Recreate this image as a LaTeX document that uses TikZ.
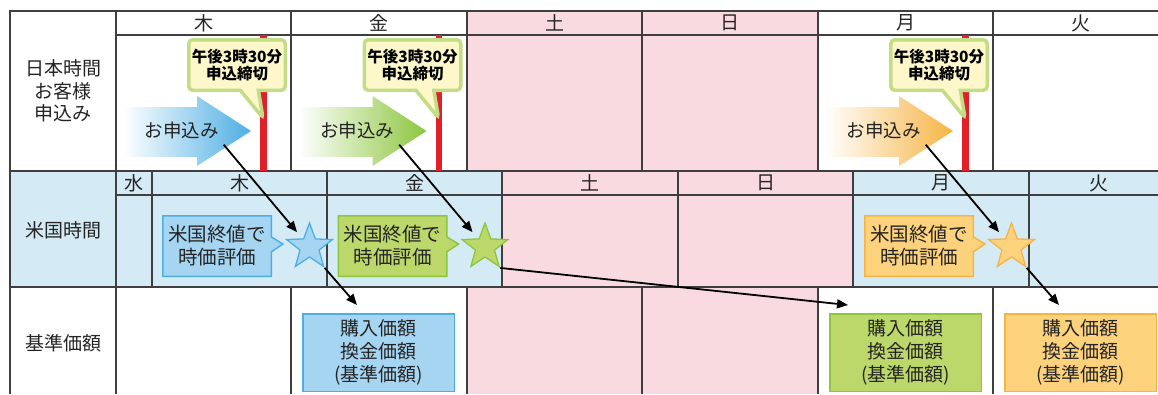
\documentclass[tikz,border=0pt]{standalone}
\usepackage{fontspec}
\setmainfont{Noto Sans CJK JP}
\usetikzlibrary{arrows.meta,shapes.geometric,shapes.callouts}
\definecolor{gridline}{HTML}{3F3F3F}
\definecolor{txt}{HTML}{242424}
\definecolor{pinkbg}{HTML}{F9DAE0}
\definecolor{usbg}{HTML}{D4EAF4}
\definecolor{redline}{HTML}{E2202A}
\definecolor{noteline}{HTML}{C3DC86}
\definecolor{notefill}{HTML}{FDF7CA}
\definecolor{blueA}{HTML}{4DAEE4}
\definecolor{blueB}{HTML}{A6D5F2}
\definecolor{greenA}{HTML}{8CC63E}
\definecolor{greenB}{HTML}{BDD86A}
\definecolor{orangeA}{HTML}{F6B445}
\definecolor{orangeB}{HTML}{FDD27C}
\begin{document}
\begin{tikzpicture}[x=1pt,y=-1pt,
	grid/.style={draw=gridline,line width=1.3pt},
	day/.style={font=\fontsize{19}{19}\selectfont,text=txt},
	rowlabel/.style={font=\fontsize{19}{22.5}\selectfont,align=center,text=txt},
	applabel/.style={font=\fontsize{18.5}{18.5}\selectfont,text=txt,inner sep=0pt},
	deadline/.style={rectangle callout,draw=noteline,fill=notefill,line width=3.5pt,
		rounded corners=4pt,minimum width=96.5,minimum height=50.5,callout pointer width=18pt,
		font=\bfseries\fontsize{15.5}{17}\selectfont,align=center,inner sep=0pt,text=black},
	evalbox/.style={rectangle callout,line width=1.5pt,minimum width=108.5,minimum height=60.5,
		callout pointer width=15pt,font=\fontsize{19.5}{23}\selectfont,align=center,text=txt},
	basebox/.style={rectangle,line width=1.5pt,minimum width=151.5,minimum height=77.5,
		font=\fontsize{19}{23}\selectfont,align=center,text=txt},
	mark/.style={},
	link/.style={->,line width=1.8pt,black},
	>={Triangle[length=11pt,width=9pt]}]
	\useasboundingbox (0,0) rectangle (1158,394);
	% weekend and US row
	\fill[pinkbg] (467,11) rectangle (818,171);
	\fill[usbg] (10,171) rectangle (1158,287);
	\fill[pinkbg] (502,171) rectangle (853,287);
	\fill[pinkbg] (467,287) rectangle (818,394);
	% grid
	\draw[grid] (10,394) -- (10,11) -- (1158,11);
	\foreach \y in {171,287}
		\draw[grid] (10,\y) -- (1158,\y);
	\draw[grid] (116,35) -- (1158,35);
	\draw[grid] (116,195) -- (1158,195);
	\draw[grid] (116,11) -- (116,394);
	\foreach \x in {291,467,642,818,993}
		{
			\draw[grid] (\x,11) -- (\x,171);
			\draw[grid] (\x,287) -- (\x,394);
		}
	\foreach \x in {152,327,502,678,853,1029}
		\draw[grid] (\x,171) -- (\x,287);
	% days
	\foreach \x/\d [count=\i] in {203.5/木,379/金,554.5/土,730/日,905.5/月,1081/火}
		\node[day] (jp\i) at (\x,23) {\d};
	\foreach \x/\d [count=\i] in {134/水,239.5/木,414.5/金,590/土,765.5/日,941/月,1098.5/火}
		\node[day] (us\i) at (\x,183) {\d};
	% row labels
	\node[rowlabel] (jptime) at (63,91) {日本時間\\お客様\\申込み};
	\node[rowlabel] (ustime) at (63,230) {米国時間};
	\node[rowlabel] (nav) at (63,343) {基準価額};
	% orders
	\foreach \dx/\col/\lite/\bx/\ex [count=\i] in {0/blueA/blueB/378.5/357,175.5/greenA/greenB/905.5/848,702/orangeA/orangeB/1080.5/1059}
		{
			\shade[left color=white,middle color=\col,right color=\col]
				(123+\dx,107) -- (197+\dx,107) -- (197+\dx,96) -- (251+\dx,131)
				-- (197+\dx,166) -- (197+\dx,157) -- (123+\dx,157) -- cycle;
			\node[applabel] (app\i) at (181.5+\dx,130) {お申込み};
			\draw[redline,line width=6.5pt] (263.5+\dx,35) -- (263.5+\dx,171);
			\coordinate (tip\i) at (263+\dx,118);
			\node[deadline,callout absolute pointer={(tip\i)}] (cut\i) at (237+\dx,65) {午後3時30分\\申込締切};
			\node[star,star points=5,star point ratio=2.4,minimum size=48pt,inner sep=0pt,
				draw=\col,fill=\lite,line width=1.3pt] (star\i) at (309.5+\dx,247) {};
			\node[evalbox,draw=\col,fill=\lite,
				callout absolute pointer={([shift={(-2,5)}]star\i.outer point 2)}] (eval\i) at (217+\dx,246) {米国終値で\\時価評価};
			\node[basebox,draw=\col,fill=\lite] (base\i) at (\bx,352.5) {購入価額\\換金価額\\(基準価額)};
			\coordinate (in\i) at (\ex,305);
			\draw[link,shorten >=8pt] ([shift={(5,6)}]app\i.south east) -- (star\i);
			\draw[link] (star\i.outer point 4) -- (in\i);
		}
\end{tikzpicture}
\end{document}
